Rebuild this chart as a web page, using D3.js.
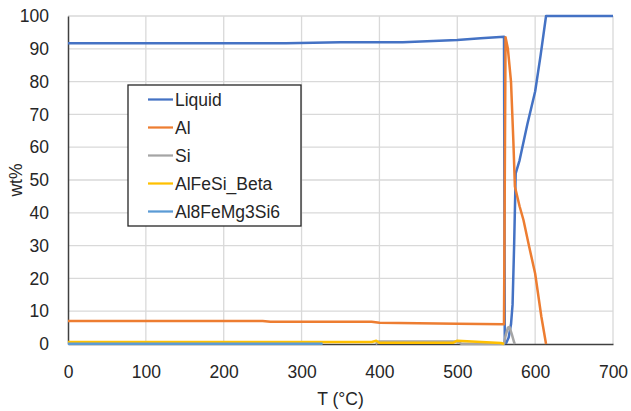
<!DOCTYPE html>
<html>
<head>
<meta charset="utf-8">
<script src="https://cdn.jsdelivr.net/npm/d3@7"></script>
<style>
  body { margin: 0; background: #fff; }
  text { font-family: "Liberation Sans", Arial, sans-serif; fill: #262626; }
  .grid line { stroke: #d9d9d9; stroke-width: 1.3; }
  .series { fill: none; stroke-width: 2.5; stroke-linejoin: round; }
</style>
</head>
<body>
<div id="chart"></div>
<script>
//Global variables
const width = 631;
const height = 411;
const plotLeft = 68, plotRight = 613, plotTop = 16, plotBottom = 344;
const fontSize = "17.5px";

//Tick labels
const xTicks = [0, 100, 200, 300, 400, 500, 600, 700];
const yTicks = [0, 10, 20, 30, 40, 50, 60, 70, 80, 90, 100];

//Series data, [T (°C), wt%]
const liquid = [[0, 91.7], [280, 91.7], [350, 92.0], [430, 92.0], [500, 92.7], [530, 93.2], [560, 93.7],
    [561, 0.3], [563, 0.4], [566, 2], [569, 6], [571, 12], [573, 30], [575, 52], [580, 56], [590, 67],
    [600, 77], [607, 88], [614, 100], [700, 100]];
const al = [[0, 7.0], [250, 7.0], [260, 6.8], [390, 6.8], [400, 6.5], [500, 6.2], [560, 6.0],
    [562, 93.5], [565, 90], [569, 80], [572, 62], [574, 48], [580, 42], [585, 37.8], [592, 30],
    [600, 21.5], [608, 8.3], [614, 0]];
const si = [[395, 0], [400, 0.8], [500, 0.8], [505, 0.1], [560, 0.1], [562, 2.5], [565, 5.0],
    [567, 5.2], [570, 3.0], [573, 0.5], [574, 0]];
const alfesiBeta = [[0, 0.6], [390, 0.6], [396, 1.0], [400, 0.4], [495, 0.4], [500, 1.0], [556, 0.3], [560, 0]];
const al8 = [[0, 0.1], [327, 0.1]];

const seriesNames = ["Liquid", "Al", "Si", "AlFeSi_Beta", "Al8FeMg3Si6"];
const seriesData = [liquid, al, si, alfesiBeta, al8];
const seriesColors = ["#4472c4", "#ed7d31", "#a5a5a5", "#ffc000", "#5b9bd5"];

//Scales
const xScale = d3.scaleLinear().domain([0, 700]).range([plotLeft, plotRight]);
const yScale = d3.scaleLinear().domain([0, 100]).range([plotBottom, plotTop]);

const svg = d3.select("#chart")
    .append("svg")
    .attr("width", width)
    .attr("height", height);

//Gridlines
svg.append("g")
    .attr("class", "grid")
    .selectAll("line")
    .data(yTicks.slice(1))
    .enter()
    .append("line")
    .attr("x1", plotLeft).attr("x2", plotRight)
    .attr("y1", d => yScale(d)).attr("y2", d => yScale(d));

svg.append("g")
    .attr("class", "grid")
    .selectAll("line")
    .data(xTicks.slice(1))
    .enter()
    .append("line")
    .attr("x1", d => xScale(d)).attr("x2", d => xScale(d))
    .attr("y1", plotTop).attr("y2", plotBottom);

//Axes
const bottomAxis = d3.axisBottom(xScale).tickValues(xTicks).tickSize(0).tickPadding(22);
const leftAxis = d3.axisLeft(yScale).tickValues(yTicks).tickSize(0).tickPadding(19);

svg.append("g")
    .attr("transform", "translate(0," + plotBottom + ")")
    .call(bottomAxis)
    .call(g => g.select(".domain").attr("stroke", "#404040").attr("stroke-width", 1.5))
    .selectAll("text")
    .style("font-size", fontSize)
    .attr("fill", "#262626");

svg.append("g")
    .attr("transform", "translate(" + plotLeft + ",0)")
    .call(leftAxis)
    .call(g => g.select(".domain").attr("stroke", "#404040").attr("stroke-width", 1.5))
    .selectAll("text")
    .style("font-size", fontSize)
    .attr("fill", "#262626");

//Lines
const line = d3.line()
    .x(d => xScale(d[0]))
    .y(d => yScale(d[1]));

svg.append("g")
    .selectAll("path")
    .data(seriesData)
    .enter()
    .append("path")
    .attr("class", "series")
    .attr("d", line)
    .attr("stroke", (d, i) => seriesColors[i]);

//Axes labels
svg.append("text")
    .attr("x", (plotLeft + plotRight) / 2)
    .attr("y", 405)
    .attr("text-anchor", "middle")
    .style("font-size", fontSize)
    .text("T (°C)");

svg.append("text")
    .attr("transform", "translate(22," + ((plotTop + plotBottom) / 2) + ") rotate(-90)")
    .attr("text-anchor", "middle")
    .style("font-size", fontSize)
    .text("wt%");

//Legend
const legend = svg.append("g").attr("transform", "translate(128,85)");
legend.append("rect")
    .attr("width", 173)
    .attr("height", 141)
    .attr("fill", "#fff")
    .attr("stroke", "#262626")
    .attr("stroke-width", 1.3);

const items = legend.selectAll(".item")
    .data(seriesNames)
    .enter()
    .append("g")
    .attr("transform", (d, i) => "translate(0," + (14.5 + i * 28) + ")");

items.append("line")
    .attr("x1", 20).attr("x2", 45)
    .attr("stroke", (d, i) => seriesColors[i])
    .attr("stroke-width", 2.25);

items.append("text")
    .attr("x", 47)
    .attr("dy", "0.36em")
    .style("font-size", fontSize)
    .text(d => d);
</script>
</body>
</html>
